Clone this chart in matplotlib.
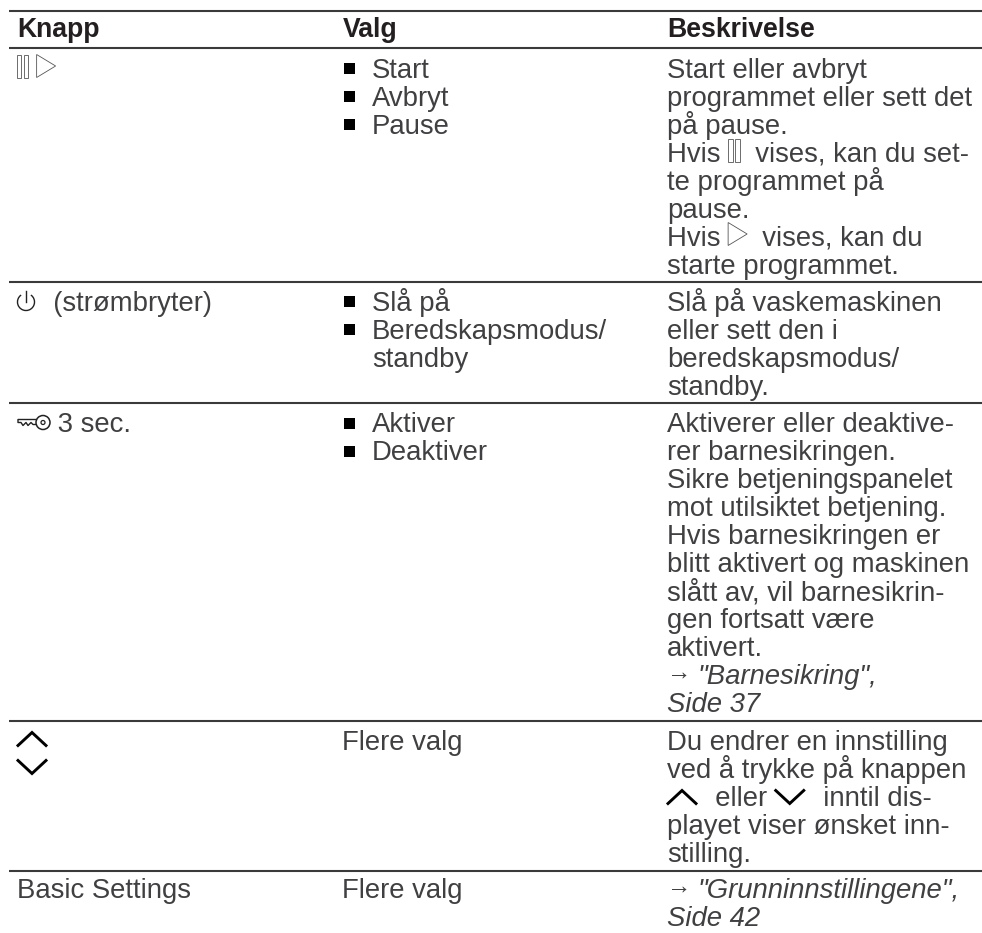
import re
import matplotlib
matplotlib.use("Agg")
import matplotlib.pyplot as plt
from matplotlib.patches import Rectangle, Polygon, Circle, Arc

plt.rcParams['font.family'] = ['Liberation Sans', 'DejaVu Sans']

headers = ["Knapp", "Valg", "Beskrivelse"]

knapp = ["{pause} {play}", "{power}  (strømbryter)", "{key} 3 sec.", "{updown}", "Basic Settings"]

valg = [
    ["Start", "Avbryt", "Pause"],
    ["Slå på", "Beredskapsmodus/", "standby"],
    ["Aktiver", "Deaktiver"],
    ["Flere valg"],
    ["Flere valg"],
]
valg_bullets = [True, True, True, False, False]

beskrivelse = [
    ["Start eller avbryt", "programmet eller sett det", "på pause.",
     "Hvis {pause}  vises, kan du set-", "te programmet på", "pause.",
     "Hvis {play}  vises, kan du", "starte programmet."],
    ["Slå på vaskemaskinen", "eller sett den i", "beredskapsmodus/", "standby."],
    ["Aktiverer eller deaktive-", "rer barnesikringen.", "Sikre betjeningspanelet",
     "mot utilsiktet betjening.", "Hvis barnesikringen er", "blitt aktivert og maskinen",
     "slått av, vil barnesikrin-", "gen fortsatt være", "aktivert.",
     '{arrow}_"Barnesikring",', "_Side 37"],
    ["Du endrer en innstilling", "ved å trykke på knappen",
     "{up}  eller {down}  inntil dis-", "playet viser ønsket inn-", "stilling."],
    ['{arrow}_"Grunninnstillingene",', "_Side 42"],
]

rules = [10.5, 48, 281.5, 403, 721, 871]
col_x = [17, 342.5, 667]
FS = 19.8
FS_HEAD = 19.2
LEAD = 28
INK = "#404042"

fig = plt.figure(figsize=(9.82, 9.33), dpi=100)
ax = fig.add_axes([0, 0, 1, 1])
ax.set_xlim(0, 982)
ax.set_ylim(933, 0)
ax.axis("off")


def pause_icon(x, base):
    for dx in (0, 7):
        ax.add_patch(Rectangle((x + dx, base - 23), 4.5, 23, fc="white", ec="#555555", lw=0.6))
    return 12


def play_icon(x, base):
    ax.add_patch(Polygon([(x, base - 23), (x + 19, base - 11.5), (x, base)], closed=True,
                         fc="white", ec="#555555", lw=0.6))
    return 19


def up_icon(x, base):
    ax.plot([x + 1, x + 15, x + 29], [base - 3, base - 16, base - 3], color="black", lw=2.1,
            solid_joinstyle="miter")
    return 33


def down_icon(x, base):
    ax.plot([x + 1, x + 15, x + 29], [base - 16, base - 3, base - 16], color="black", lw=2.1,
            solid_joinstyle="miter")
    return 33


def power_icon(x, base):
    ax.add_patch(Arc((x + 9, base - 9), 17, 17, theta1=-55, theta2=235, color="#222222", lw=1.0))
    ax.plot([x + 9, x + 9], [base - 20, base - 9], color="#222222", lw=1.0)
    return 21


def key_icon(x, base):
    ax.add_patch(Circle((x + 26, base - 10), 7, fc="white", ec="#222222", lw=1.1, zorder=3))
    ax.add_patch(Circle((x + 26, base - 10), 2, fc="white", ec="#222222", lw=0.9, zorder=4))
    ax.plot([x + 19, x + 1, x + 1, x + 4, x + 6, x + 9, x + 11, x + 14, x + 16, x + 19],
            [base - 13, base - 13, base - 10, base - 10, base - 7, base - 10, base - 7, base - 10, base - 8, base - 8],
            color="#222222", lw=1.0)
    return 33


def updown_icon(x, base):
    up_icon(x, base - 2)
    down_icon(x, base + 26)
    return 30


def arrow_icon(x, base):
    ax.text(x, base - 6, "→", fontsize=17.5, color=INK, va="baseline", ha="left")
    return 30


icons = {"pause": pause_icon, "play": play_icon, "up": up_icon, "down": down_icon,
         "power": power_icon, "key": key_icon, "updown": updown_icon, "arrow": arrow_icon}


def put_line(x, base, line):
    renderer = fig.canvas.get_renderer()
    for part in re.split(r"(\{\w+\})", line):
        if not part:
            continue
        if part.startswith("{"):
            x += icons[part[1:-1]](x, base)
            continue
        for i, chunk in enumerate(part.split("_")):
            if not chunk:
                continue
            t = ax.text(x, base, chunk, fontsize=FS, color=INK, va="baseline", ha="left",
                        style="italic" if i % 2 else "normal")
            x += t.get_window_extent(renderer).width


for y in rules:
    ax.plot([9, 982], [y, y], color="#3a3a3a", lw=1.5, solid_capstyle="butt")

for x, h in zip(col_x, headers):
    ax.text(x, 37, h, fontsize=FS_HEAD, weight="bold", color="#231f20", va="baseline", ha="left")

for i, top in enumerate(rules[1:]):
    base = top + 29.5 - (2 if i == 4 else 0)
    put_line(col_x[0], base, knapp[i])
    for j, line in enumerate(valg[i]):
        if valg_bullets[i]:
            if j < 2 or i == 0:
                ax.add_patch(Rectangle((344, base + j * LEAD - 15), 11, 11, fc="black", ec="none"))
            put_line(372, base + j * LEAD, line)
        else:
            put_line(col_x[1], base + j * LEAD, line)
    for j, line in enumerate(beskrivelse[i]):
        put_line(col_x[2], base + j * LEAD, line)

fig.savefig("out.png", dpi=100)
